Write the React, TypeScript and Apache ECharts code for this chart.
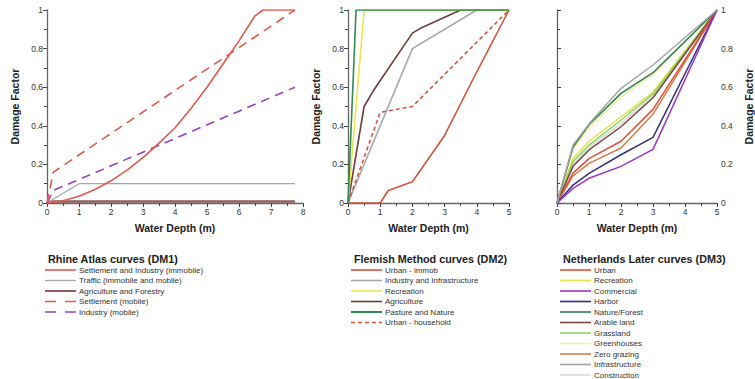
import React, { useEffect, useRef } from "react";
import * as echarts from "echarts";

// ---------- DM1: Rhine Atlas ----------
const dm1Names = [
  "Settlement and Industry (immobile)",
  "Traffic (immobile and mobile)",
  "Agriculture and Forestry",
  "Settlement (mobile)",
  "Industry (mobile)",
];
const dm1SettlementIndustry = [
  [0, 0], [0.5, 0.012], [1, 0.035], [1.5, 0.07], [2, 0.115], [2.5, 0.17], [3, 0.235],
  [3.5, 0.31], [4, 0.39], [4.5, 0.49], [5, 0.6], [5.5, 0.72], [6, 0.84], [6.5, 0.97],
  [6.75, 1], [7.75, 1],
];
const dm1Traffic = [[0, 0], [1, 0.1], [7.75, 0.1]];
const dm1Agriculture = [[0, 0], [0.1, 0.008], [7.75, 0.008]];
const dm1SettlementMobile = [[0, 0], [0.2, 0.16], [7.75, 1]];
const dm1IndustryMobile = [[0, 0], [0.2, 0.065], [7.75, 0.6]];

// ---------- DM2: Flemish Method ----------
const dm2Names = [
  "Urban - immob",
  "Industry and Infrastructure",
  "Recreation",
  "Agriculture",
  "Pasture and Nature",
  "Urban - household",
];
const dm2UrbanImmob = [[0, 0], [1, 0], [1.25, 0.065], [2, 0.11], [3, 0.35], [4, 0.68], [5, 1]];
const dm2Industry = [[0, 0], [2, 0.8], [4, 1], [5, 1]];
const dm2Recreation = [[0, 0], [0.5, 1], [5, 1]];
const dm2Agriculture = [[0, 0], [0.5, 0.5], [0.78, 0.58], [2, 0.88], [2.25, 0.905], [3.5, 1], [5, 1]];
const dm2Pasture = [[0, 0], [0.25, 1], [5, 1]];
const dm2UrbanHousehold = [[0, 0], [1, 0.47], [2, 0.5], [5, 1]];

// ---------- DM3: Netherlands Later ----------
const dm3Names = [
  "Urban", "Recreation", "Commercial", "Harbor", "Nature/Forest", "Arable land",
  "Grassland", "Greenhouses", "Zero grazing", "Infrastructure", "Construction",
];
const dm3Depths = [0, 0.5, 1, 2, 3, 5];
const dm3Urban = [0, 0.155, 0.23, 0.32, 0.485, 1];
const dm3Recreation = [0, 0.23, 0.32, 0.447, 0.575, 1];
const dm3Commercial = [0, 0.076, 0.128, 0.19, 0.278, 1];
const dm3Harbor = [0, 0.093, 0.154, 0.25, 0.34, 1];
const dm3Nature = [0, 0.29, 0.405, 0.568, 0.675, 1];
const dm3Arable = [0, 0.19, 0.275, 0.395, 0.545, 1];
const dm3Grassland = [0, 0.215, 0.3, 0.43, 0.565, 1];
const dm3Greenhouses = [0, 0.28, 0.39, 0.55, 0.665, 1];
const dm3ZeroGrazing = [0, 0.14, 0.205, 0.285, 0.46, 1];
const dm3Infrastructure = [0, 0.3, 0.41, 0.594, 0.715, 1];
const dm3Construction = [0, 0.2, 0.29, 0.41, 0.555, 1];

const dm1Colors = ["#e05a4f", "#a8a8a8", "#8e5e5e", "#e05a4f", "#9b40c4"];
const dm1Dash = [false, false, false, true, true];
const dm1Widths = [1.6, 1.3, 2.4, 1.6, 1.6];
const dm2Colors = ["#d9513f", "#a8a8a8", "#ece64a", "#6e3d3d", "#2f8a50", "#d9513f"];
const dm2Dash = [false, false, false, false, false, true];
const dm3Colors = [
  "#e0503c", "#e8e24a", "#9a36c8", "#34307e", "#2e7d4c", "#7a4545",
  "#8ed65e", "#f2f0a8", "#d97c4a", "#a6a6a6", "#dcdcdc",
];

const FONT = "Liberation Sans, Arial, sans-serif";

function xAxisFor(gridIndex: number, max: number) {
  return {
    type: "value",
    gridIndex,
    min: 0,
    max,
    interval: 1,
    name: "Water Depth (m)",
    nameLocation: "middle",
    nameGap: 19,
    nameTextStyle: { fontFamily: FONT, fontSize: 10.5, fontWeight: "bold", color: "#222" },
    axisLine: { show: true, onZero: false, lineStyle: { color: "#666", width: 1.3 } },
    axisTick: { show: true, length: 4, lineStyle: { color: "#444" } },
    minorTick: { show: true, splitNumber: 2, length: 3, lineStyle: { color: "#444" } },
    splitLine: { show: false },
    axisLabel: { fontFamily: FONT, fontSize: 8.5, color: "#333", margin: 4 },
  };
}

function yAxisFor(gridIndex: number, right: boolean) {
  return {
    type: "value",
    gridIndex,
    min: 0,
    max: 1,
    interval: 0.2,
    position: right ? "right" : "left",
    name: "Damage Factor",
    nameLocation: "middle",
    nameRotate: 90,
    nameGap: right ? 26 : 27,
    nameTextStyle: { fontFamily: FONT, fontSize: 10.5, fontWeight: "bold", color: "#222" },
    axisLine: { show: true, lineStyle: { color: "#666", width: 1.3 } },
    axisTick: { show: true, length: 4, lineStyle: { color: "#444" } },
    minorTick: { show: true, splitNumber: 2, length: 3, lineStyle: { color: "#444" } },
    splitLine: { show: false },
    axisLabel: { fontFamily: FONT, fontSize: 8.5, color: "#333", margin: 4 },
  };
}

function lineSeries(name: string, data: number[][], idx: number, color: string, width: number, dash: any) {
  return {
    type: "line",
    name,
    data,
    xAxisIndex: idx,
    yAxisIndex: idx,
    symbol: "none",
    silent: true,
    lineStyle: { color, width, type: dash || "solid" },
  };
}

function legendGraphic(title: string, names: string[], colors: string[], dashes: (number[] | null)[], x: number, y: number, widths: number[]) {
  const children: any[] = [
    {
      type: "text",
      x: x + 3,
      y,
      style: { text: title, fontFamily: FONT, fontSize: 10.8, fontWeight: "bold", fill: "#222", verticalAlign: "middle" },
    },
  ];
  names.forEach((n, i) => {
    const yy = y + 11 + i * 10.5;
    children.push({
      type: "line",
      shape: { x1: x, y1: yy, x2: x + 31, y2: yy },
      style: { stroke: colors[i], lineWidth: widths[i], lineDash: dashes[i] || null },
    });
    children.push({
      type: "text",
      x: x + 34,
      y: yy,
      style: { text: n, fontFamily: FONT, fontSize: 8, fill: "#333", verticalAlign: "middle" },
    });
  });
  return { type: "group", children };
}

export default function App() {
  const ref = useRef<HTMLDivElement>(null);
  useEffect(() => {
    if (!ref.current) return;
    const chart = echarts.init(ref.current, null, { renderer: "svg" });
    const dm1Data = [dm1SettlementIndustry, dm1Traffic, dm1Agriculture, dm1SettlementMobile, dm1IndustryMobile];
    const dm2Data = [dm2UrbanImmob, dm2Industry, dm2Recreation, dm2Agriculture, dm2Pasture, dm2UrbanHousehold];
    const dm3Values = [
      dm3Urban, dm3Recreation, dm3Commercial, dm3Harbor, dm3Nature, dm3Arable,
      dm3Grassland, dm3Greenhouses, dm3ZeroGrazing, dm3Infrastructure, dm3Construction,
    ];
    const series: any[] = [];
    [2, 1, 4, 3, 0].forEach((i) => {
      series.push(lineSeries(dm1Names[i], dm1Data[i], 0, dm1Colors[i], dm1Widths[i], dm1Dash[i] ? [9, 6] : null));
    });
    [1, 5, 0, 3, 2, 4].forEach((i) => {
      series.push(lineSeries(dm2Names[i], dm2Data[i], 1, dm2Colors[i], 1.6, dm2Dash[i] ? [4, 3] : null));
    });
    [10, 7, 1, 6, 5, 8, 0, 3, 2, 4, 9].forEach((i) => {
      const pts = dm3Depths.map((d, k) => [d, dm3Values[i][k]]);
      series.push(lineSeries(dm3Names[i], pts, 2, dm3Colors[i], 1.5, null));
    });

    chart.setOption({
      animation: false,
      backgroundColor: "#ffffff",
      grid: [
        { left: 47, top: 10, width: 256, height: 193 },
        { left: 348, top: 10, width: 161, height: 193 },
        { left: 557, top: 10, width: 160, height: 193 },
      ],
      xAxis: [xAxisFor(0, 8), xAxisFor(1, 5), xAxisFor(2, 5)],
      yAxis: [yAxisFor(0, false), yAxisFor(1, false), yAxisFor(2, true)],
      series,
      graphic: [
        legendGraphic("Rhine Atlas curves (DM1)", dm1Names, dm1Colors,
          dm1Dash.map((d) => (d ? [11, 9] : null)), 45, 259, [1.6, 1.3, 2, 1.6, 1.6]),
        legendGraphic("Flemish Method curves (DM2)", dm2Names, dm2Colors,
          dm2Dash.map((d) => (d ? [4, 3] : null)), 351, 259, [1.6, 1.6, 1.6, 1.6, 2, 1.6]),
        legendGraphic("Netherlands Later curves (DM3)", dm3Names, dm3Colors,
          dm3Names.map(() => null), 560, 259, dm3Names.map(() => 1.6)),
      ],
    });
    return () => chart.dispose();
  }, []);
  return (
    <div
      ref={ref}
      style={{ position: "fixed", left: 0, top: 0, width: 755, height: 379, background: "#fff" }}
    />
  );
}
